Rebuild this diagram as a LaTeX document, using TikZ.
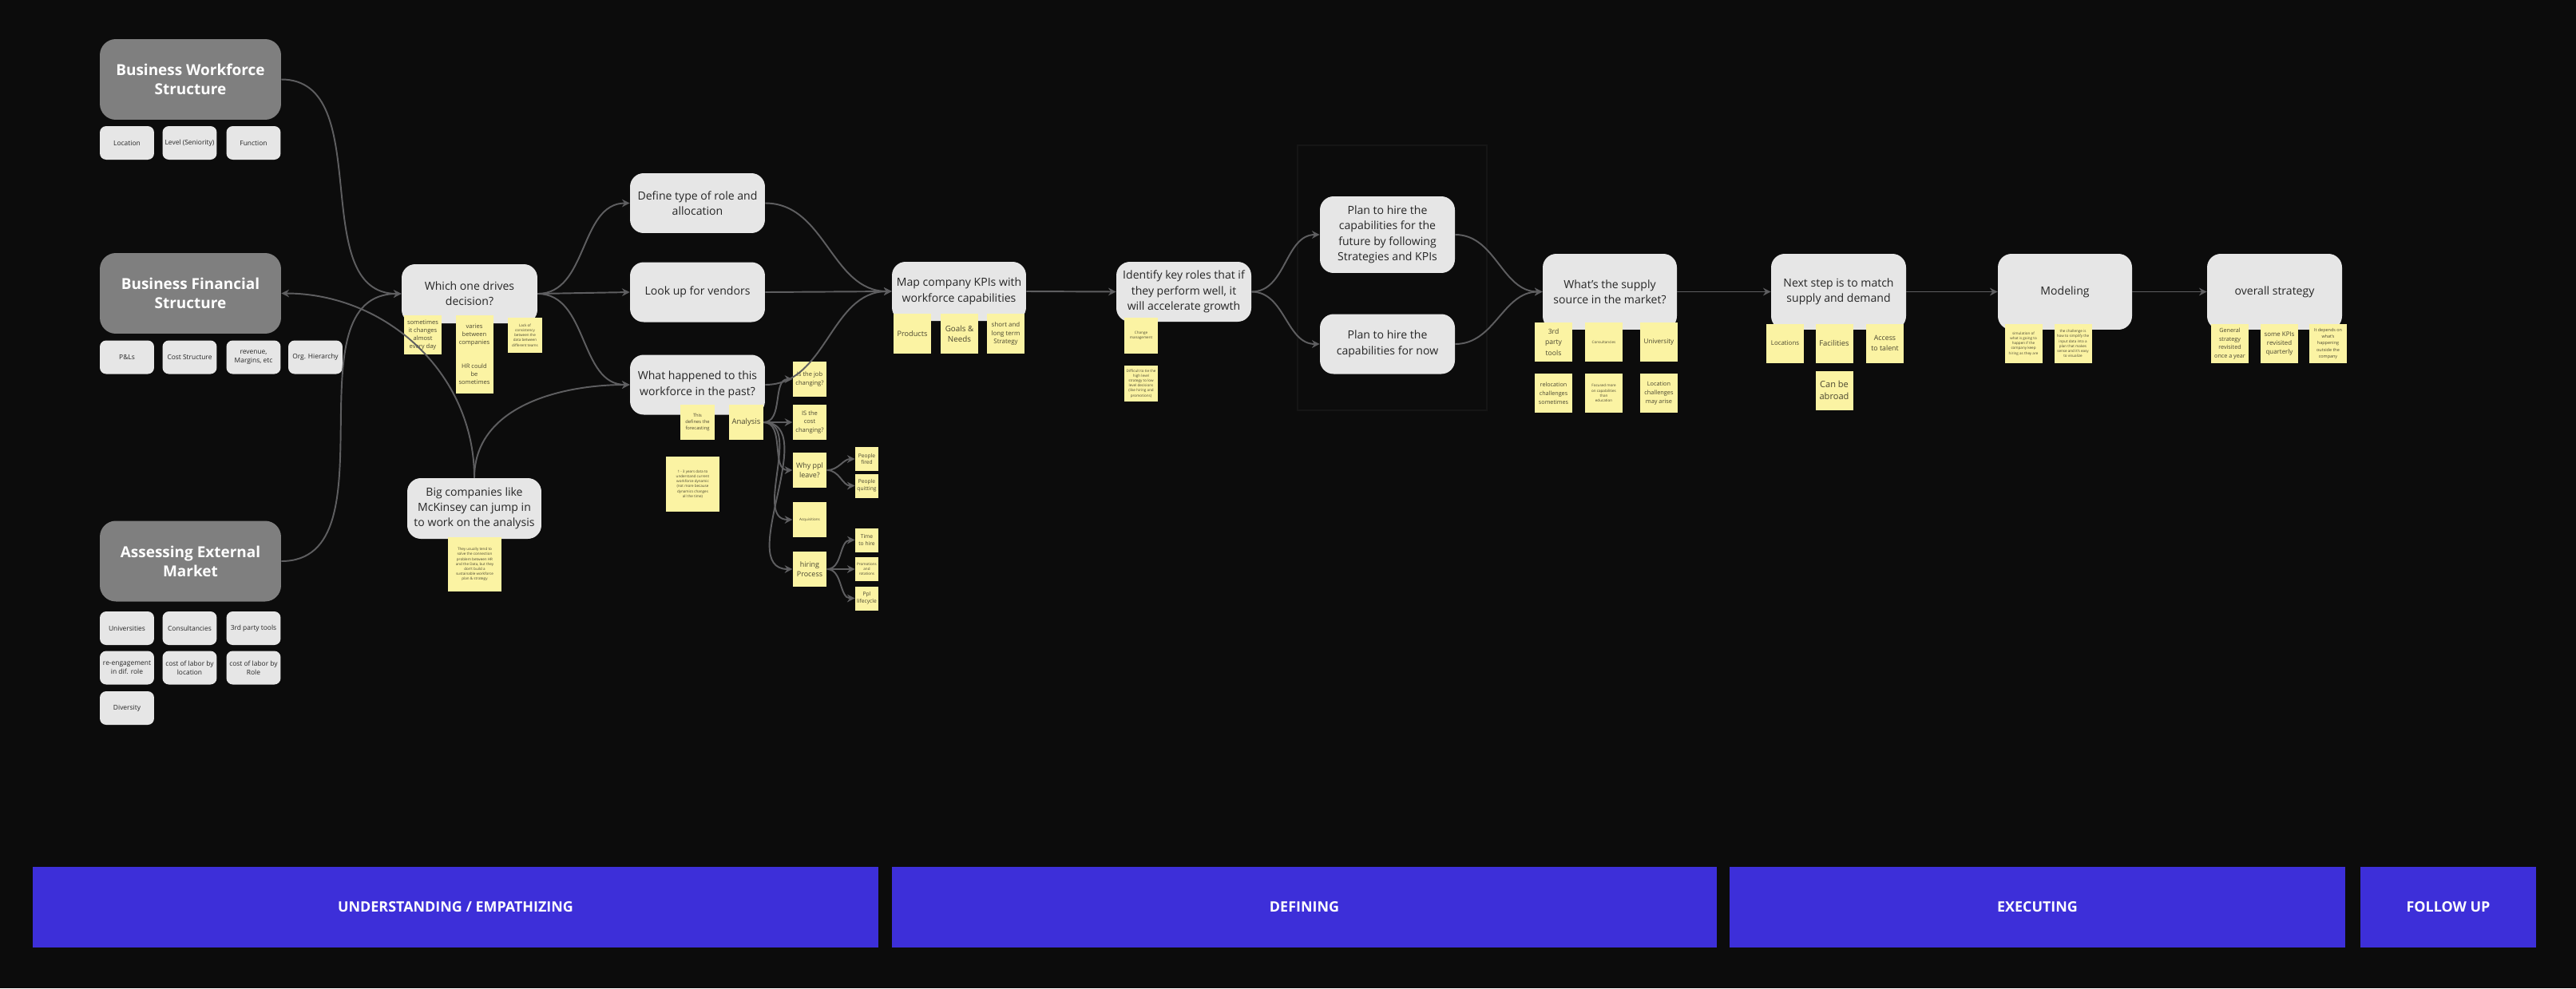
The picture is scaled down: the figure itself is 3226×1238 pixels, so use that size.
\documentclass[tikz,border=0pt]{standalone}
\usepackage{fontspec}
\setmainfont{Open Sans}
\usetikzlibrary{arrows.meta}

\definecolor{bgblack}{HTML}{0C0C0C}
\definecolor{boxgray}{HTML}{7F7F7F}
\definecolor{boxlight}{HTML}{E6E6E6}
\definecolor{boxtext}{HTML}{262626}
\definecolor{sticky}{HTML}{FBF3A3}
\definecolor{stickytext}{HTML}{4A4630}
\definecolor{linkgray}{HTML}{5E5E60}
\definecolor{bandblue}{HTML}{3D2FD9}
\definecolor{framegray}{HTML}{151515}

\newcommand{\tinynote}{\fontsize{2.6}{3.5}\selectfont}
\newcommand{\smallnote}{\fontsize{3.3}{4.5}\selectfont}

\begin{document}
\begin{tikzpicture}[x=0.02cm,y=-0.02cm,
    mainbox/.style={rectangle,rounded corners=0.4cm,fill=boxgray,text=white,align=center,
        minimum width=4.54cm,minimum height=2.02cm,inner sep=0pt,
        font=\bfseries\fontsize{10.8}{13.8}\selectfont},
    subbox/.style={rectangle,rounded corners=0.16cm,fill=boxlight,text=boxtext,align=center,
        minimum width=1.36cm,minimum height=0.84cm,inner sep=0pt,
        font=\fontsize{4.8}{6.4}\selectfont},
    stepbox/.style={rectangle,rounded corners=0.34cm,fill=boxlight,text=boxtext,align=center,
        minimum width=3.38cm,minimum height=1.5cm,inner sep=0pt,
        font=\fontsize{8}{11}\selectfont},
    note/.style={rectangle,fill=sticky,text=stickytext,align=center,
        minimum width=0.94cm,minimum height=0.98cm,inner sep=0pt,
        font=\fontsize{4.3}{5.8}\selectfont},
    qnote/.style={note,minimum width=0.85cm,minimum height=0.88cm},
    dotnote/.style={note,minimum width=0.58cm,minimum height=0.6cm,font=\fontsize{3.8}{5}\selectfont},
    band/.style={rectangle,fill=bandblue,text=white,minimum height=2.02cm,inner sep=0pt,
        font=\bfseries\fontsize{10.2}{12}\selectfont},
    link/.style={draw=linkgray,line width=1.1pt,-{Stealth[length=5.5pt,width=5.5pt]}}]

\useasboundingbox (0,0) rectangle (3226,1238);
\fill[bgblack] (0,0) rectangle (3226,1238);
\draw[framegray,line width=0.6pt] (1625,182) rectangle (1862,514);

% left column
\node[mainbox] (bws) at (238.5,99.5) {Business Workforce\\Structure};
\node[subbox] (loc) at (159,179) {Location};
\node[subbox] (lvl) at (237.5,179) {Level (Seniority)};
\node[subbox] (fun) at (317.5,179) {Function};

\node[mainbox] (bfs) at (238.5,367.5) {Business Financial\\Structure};
\node[subbox] (pnl) at (159,447.5) {P\&Ls};
\node[subbox] (cost) at (237.5,447.5) {Cost Structure};
\node[subbox] (rev) at (317.5,447.5) {revenue,\\Margins, etc};
\node[subbox] (org) at (395,447.5) {Org. Hierarchy};

\node[mainbox] (aem) at (238.5,703) {Assessing External\\Market};
\node[subbox] (uni) at (159,787) {Universities};
\node[subbox] (cons) at (237.5,787) {Consultancies};
\node[subbox] (tools) at (317.5,787) {3rd party tools};
\node[subbox] (reeng) at (159,836.5) {re-engagement\\in dif. role};
\node[subbox] (costloc) at (237.5,836.5) {cost of labor by\\location};
\node[subbox] (costrole) at (317.5,836.5) {cost of labor by\\Role};
\node[subbox] (div) at (159,887) {Diversity};

% understanding
\node[stepbox,minimum width=3.4cm,minimum height=1.48cm] (which) at (588,368) {Which one drives\\decision?};
\node[note] (often) at (529.5,419.5) {sometimes\\it changes\\almost\\every day};
\node[note] (varies) at (594,419.5) {varies\\between\\companies};
\node[note] (hr) at (594,468.5) {HR could\\be\\sometimes};
\node[note,minimum width=0.86cm,minimum height=0.88cm,font=\tinynote] (lack) at (657.5,420) {Lack of\\consistency\\between the\\data between\\different teams};

\node[stepbox,minimum width=3.36cm,minimum height=1.52cm] (big) at (594,637) {Big companies like\\McKinsey can jump in\\to work on the analysis};
\node[note,minimum width=1.34cm,minimum height=1.36cm,font=\tinynote] (mck) at (594.5,707) {They usually tend to\\solve the connection\\problem between HR\\and the Data, but they\\don't build a\\sustainable workforce\\plan \& strategy};

\node[stepbox] (define) at (873.5,254.5) {Define type of role and\\allocation};
\node[stepbox] (lookup) at (873.5,366) {Look up for vendors};
\node[stepbox] (past) at (873.5,482) {What happened to this\\workforce in the past?};
\node[qnote,font=\smallnote] (forecast) at (873.5,529) {This\\defines the\\forecasting};
\node[qnote,font=\fontsize{5.4}{7}\selectfont] (analysis) at (934.5,529) {Analysis};
\node[note,minimum width=1.34cm,minimum height=1.38cm,font=\tinynote] (years) at (867.5,606.5) {1 - 3 years data to\\understand current\\workforce dynamic\\(not more because\\dynamics changes\\all the time)};

\node[qnote] (job) at (1014,475) {Is the job\\changing?};
\node[qnote] (costq) at (1014,529) {IS the\\cost\\changing?};
\node[qnote,font=\fontsize{5.1}{6.8}\selectfont] (why) at (1014,589) {Why ppl\\leave?};
\node[qnote,font=\tinynote] (acq) at (1014,651) {Acquisitions};
\node[qnote,font=\fontsize{5.1}{6.8}\selectfont] (hiring) at (1014,713) {hiring\\Process};
\node[dotnote] (fired) at (1085.5,575) {People\\fired};
\node[dotnote] (quit) at (1085.5,608.5) {People\\quitting};
\node[dotnote] (tohire) at (1085.5,676.5) {Time\\to hire};
\node[dotnote,font=\tinynote] (promo) at (1085.5,713) {Promotions\\and\\rotations};
\node[dotnote] (cycle) at (1085.5,749.5) {Ppl\\lifecycle};

% defining
\node[stepbox,minimum width=3.36cm,minimum height=1.48cm] (map) at (1201,365) {Map company KPIs with\\workforce capabilities};
\node[note,minimum height=1cm,font=\fontsize{5.2}{7}\selectfont] (prod) at (1142.5,418) {Products};
\node[note,minimum height=1cm,font=\fontsize{5.6}{7.4}\selectfont] (goals) at (1201.5,418) {Goals \&\\Needs};
\node[note,minimum height=1cm,font=\fontsize{4.5}{6.2}\selectfont] (strat) at (1259.5,418) {short and\\long term\\Strategy};

\node[stepbox] (identify) at (1482.5,365.5) {Identify key roles that if\\they perform well, it\\will accelerate growth};
\node[note,minimum width=0.84cm,minimum height=0.9cm,font=\tinynote] (change) at (1429,420.5) {Change\\management};
\node[note,minimum width=0.84cm,minimum height=0.9cm,font=\tinynote] (tie) at (1429,480.5) {Difficult to tie the\\high level\\strategy to low\\level decisions\\(like hiring and\\promotions)};

\node[stepbox,minimum height=1.92cm] (future) at (1737.5,294) {Plan to hire the\\capabilities for the\\future by following\\Strategies and KPIs};
\node[stepbox] (now) at (1737.5,431) {Plan to hire the\\capabilities for now};

\node[stepbox,minimum width=3.36cm,minimum height=1.9cm] (supply) at (2016,365.5) {What's the supply\\source in the market?};
\node[note,font=\fontsize{4.9}{7.8}\selectfont] (third) at (1945.5,428.5) {3rd\\party\\tools};
\node[note,font=\tinynote] (consult) at (2008.5,428.5) {Consultancies};
\node[note,font=\fontsize{4.6}{6}\selectfont] (univ) at (2077.5,428.5) {University};
\node[note,font=\fontsize{4.1}{6.2}\selectfont] (reloc) at (1945.5,492.5) {relocation\\challenges\\sometimes};
\node[note,font=\tinynote] (focus) at (2008.5,492.5) {Focused more\\on capabilities\\than\\education};
\node[note,font=\fontsize{4.2}{6.2}\selectfont] (locch) at (2077.5,492.5) {Location\\challenges\\may arise};

% executing
\node[stepbox,minimum height=1.9cm] (next) at (2302.5,365.5) {Next step is to match\\supply and demand};
\node[note,font=\fontsize{4.5}{6}\selectfont] (locs) at (2235.5,430) {Locations};
\node[note,font=\fontsize{5.4}{7}\selectfont] (facil) at (2297,430) {Facilities};
\node[note,font=\fontsize{5}{7}\selectfont] (access) at (2360.5,430) {Access\\to talent};
\node[note,font=\fontsize{6.3}{8.2}\selectfont] (abroad) at (2297,489) {Can be\\abroad};

\node[stepbox,minimum width=3.36cm,minimum height=1.9cm] (modeling) at (2586,365.5) {Modeling};
\node[note,font=\tinynote] (simul) at (2534,430.5) {simulation of\\what is going to\\happen if the\\company keep\\hiring as they are};
\node[note,font=\tinynote] (challenge) at (2596,430.5) {the challenge is\\how to simplify the\\input data into a\\plan that makes\\sense and it's easy\\to visualize};

% follow up
\node[stepbox,minimum height=1.9cm] (overall) at (2848.5,365.5) {overall strategy};
\node[note,font=\fontsize{4.1}{6}\selectfont] (yearly) at (2792.5,430.5) {General\\strategy\\revisited\\once a year};
\node[note,font=\fontsize{4.5}{6.4}\selectfont] (kpis) at (2854.5,430.5) {some KPIs\\revisited\\quarterly};
\node[note,font=\fontsize{3.1}{4.6}\selectfont] (outside) at (2915.5,430.5) {It depends on\\what's\\happening\\outside the\\company};

% phases
\node[band,minimum width=21.18cm] (understand) at (570.5,1136.5) {UNDERSTANDING / EMPATHIZING};
\node[band,minimum width=20.66cm] (defining) at (1633.5,1136.5) {DEFINING};
\node[band,minimum width=15.42cm] (executing) at (2551.5,1136.5) {EXECUTING};
\node[band,minimum width=4.4cm] (followup) at (3066,1136.5) {FOLLOW UP};

\draw[link] (bws.east) to[out=0,in=180] (which.west);
\draw[link] (aem.east) to[out=0,in=180] (which.west);
\draw[link] (big.north) to[out=90,in=0] (bfs.east);
\draw[link] (big.north) to[out=90,in=180] (past.west);
\draw[link] (which.east) to[out=0,in=180] (define.west);
\draw[link] (which.east) -- (lookup.west);
\draw[link] (which.east) to[out=0,in=180] (past.west);
\draw[link] (define.east) to[out=0,in=180] (map.west);
\draw[link] (lookup.east) -- (map.west);
\draw[link] (past.east) to[out=0,in=180] (map.west);
\draw[link] (analysis.east) to[out=0,in=180] (job.west);
\draw[link] (analysis.east) -- (costq.west);
\draw[link] (analysis.east) to[out=0,in=180] (why.west);
\draw[link] (analysis.east) to[out=0,in=180] (acq.west);
\draw[link] (analysis.east) to[out=0,in=180] (hiring.west);
\draw[link] (why.east) to[out=0,in=180] (fired.west);
\draw[link] (why.east) to[out=0,in=180] (quit.west);
\draw[link] (hiring.east) to[out=0,in=180] (tohire.west);
\draw[link] (hiring.east) -- (promo.west);
\draw[link] (hiring.east) to[out=0,in=180] (cycle.west);
\draw[link] (map.east) -- (identify.west);
\draw[link] (identify.east) to[out=0,in=180] (future.west);
\draw[link] (identify.east) to[out=0,in=180] (now.west);
\draw[link] (future.east) to[out=0,in=180] (supply.west);
\draw[link] (now.east) to[out=0,in=180] (supply.west);
\draw[link] (supply.east) -- (next.west);
\draw[link] (next.east) -- (modeling.west);
\draw[link] (modeling.east) -- (overall.west);
\end{tikzpicture}
\end{document}
